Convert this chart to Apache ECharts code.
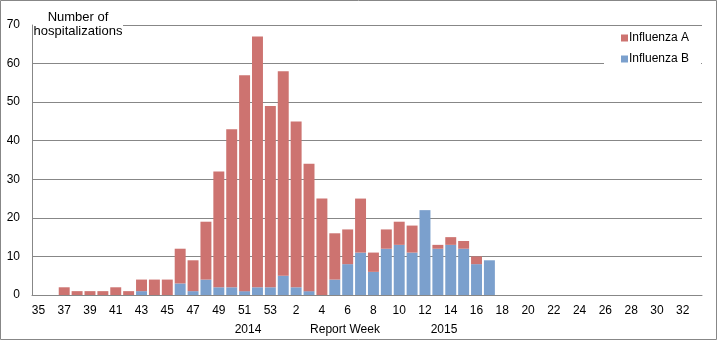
<!DOCTYPE html>
<html>
<head>
<meta charset="utf-8">
<script src="https://cdn.jsdelivr.net/npm/echarts@6/dist/echarts.min.js"></script>
<style>
  html, body { margin: 0; padding: 0; background: #fff; }
  #chart { width: 719px; height: 341px; }
</style>
</head>
<body>
<div id="chart"></div>
<script>
// Report weeks: 35–53 of 2014, then 1–33 of 2015
const weeks = ["35","36","37","38","39","40","41","42","43","44","45","46","47","48","49","50","51","52","53",
  "1","2","3","4","5","6","7","8","9","10","11","12","13","14","15","16","17","18","19","20",
  "21","22","23","24","25","26","27","28","29","30","31","32","33"];

// Hospitalizations per week, influenza B (bottom of stack)
const influenzaB = [0,0,0,0,0,0,0,0,1,0,0,3,1,4,2,2,1,2,2,
  5,2,1,0,4,8,11,6,12,13,11,22,12,13,12,8,9,0,0,0,
  0,0,0,0,0,0,0,0,0,0,0,0,0];

// Hospitalizations per week, influenza A (top of stack)
const influenzaA = [0,0,2,1,1,1,2,1,3,4,4,9,8,15,30,41,56,65,47,
  53,43,33,25,12,9,14,5,5,6,7,0,1,2,2,2,0,0,0,0,
  0,0,0,0,0,0,0,0,0,0,0,0,0];

const yTicks = { min: 0, max: 70, interval: 10 };

const gridColor = '#878787';
const font = 'Liberation Sans, Arial, sans-serif';

const chart = echarts.init(document.getElementById('chart'), null, { renderer: 'canvas' });

chart.setOption({
  animation: false,
  backgroundColor: '#fff',
  grid: { left: 32, right: 17, top: 25, bottom: 46, containLabel: false },
  legend: {
    orient: 'vertical',
    left: 604,
    top: 27,
    padding: [5, 12, 8, 17],
    backgroundColor: '#fff',
    itemWidth: 7,
    itemHeight: 7,
    itemGap: 9,
    icon: 'rect',
    textStyle: { fontFamily: font, fontSize: 12, color: '#000', lineHeight: 12, padding: [0, 0, 0, -4] },
    data: ['Influenza A', 'Influenza B']
  },
  xAxis: {
    type: 'category',
    data: weeks,
    axisLine: { show: true, lineStyle: { color: gridColor, width: 1 } },
    axisTick: { show: false },
    axisLabel: { interval: 1, margin: 10, fontFamily: font, fontSize: 12, color: '#000' },
    splitLine: { show: false }
  },
  yAxis: {
    type: 'value',
    min: yTicks.min,
    max: yTicks.max,
    interval: yTicks.interval,
    axisLine: { show: true, lineStyle: { color: gridColor, width: 1 } },
    axisTick: { show: false },
    axisLabel: { margin: 12, fontFamily: font, fontSize: 12, color: '#000' },
    splitLine: { show: true, lineStyle: { color: gridColor, width: 1 } }
  },
  series: [
    {
      name: 'Influenza B',
      type: 'bar',
      stack: 'flu',
      data: influenzaB,
      barCategoryGap: '15%',
      itemStyle: { color: '#7BA0CD' }
    },
    {
      name: 'Influenza A',
      type: 'bar',
      stack: 'flu',
      data: influenzaA,
      barCategoryGap: '15%',
      itemStyle: { color: '#CD7370' }
    }
  ],
  graphic: [
    {
      type: 'rect',
      shape: { x: 0.5, y: 0.5, width: 716, height: 339 },
      style: { fill: 'none', stroke: gridColor, lineWidth: 1 },
      silent: true,
      z: 100
    },
    {
      type: 'rect',
      shape: { x: 33, y: 18, width: 90, height: 22 },
      style: { fill: '#fff' },
      silent: true,
      z: 50
    },
    {
      type: 'text',
      x: 78, y: 24,
      style: {
        text: 'Number of\nhospitalizations',
        fontFamily: font, fontSize: 13, fill: '#000',
        align: 'center', verticalAlign: 'middle', lineHeight: 14
      },
      silent: true,
      z: 51
    },
    {
      type: 'text', x: 248, y: 330,
      style: { text: '2014', fontFamily: font, fontSize: 12, fill: '#000', align: 'center', verticalAlign: 'middle' },
      silent: true
    },
    {
      type: 'text', x: 345, y: 330,
      style: { text: 'Report Week', fontFamily: font, fontSize: 12, fill: '#000', align: 'center', verticalAlign: 'middle' },
      silent: true
    },
    {
      type: 'text', x: 444, y: 330,
      style: { text: '2015', fontFamily: font, fontSize: 12, fill: '#000', align: 'center', verticalAlign: 'middle' },
      silent: true
    }
  ]
});
</script>
</body>
</html>
